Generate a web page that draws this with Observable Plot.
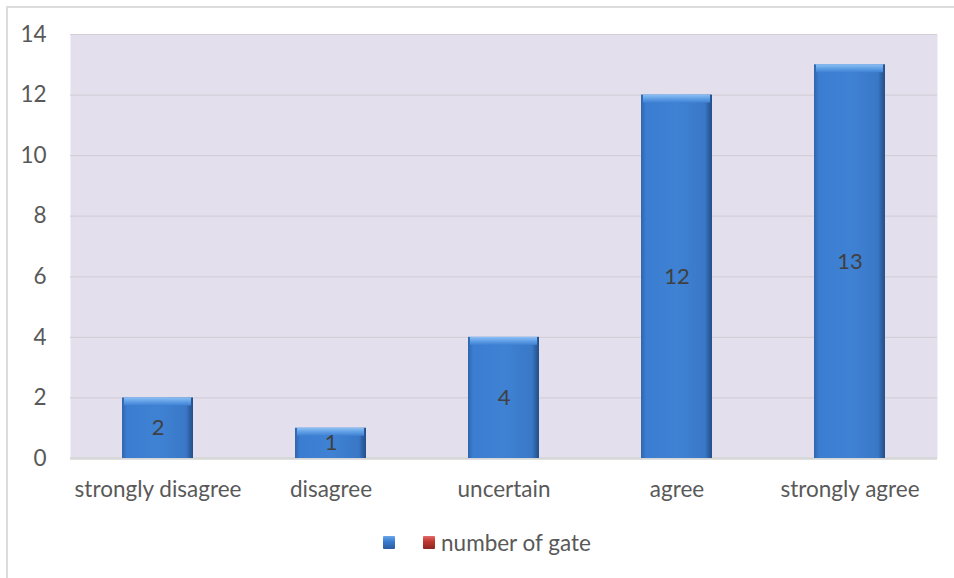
<!DOCTYPE html>
<html>
<head>
<meta charset="utf-8">
<script src="https://cdn.jsdelivr.net/npm/d3@7"></script>
<script src="https://cdn.jsdelivr.net/npm/@observablehq/plot@0.6"></script>
<style>
  body { margin: 0; background: #fff; }
  #wrap { position: relative; width: 954px; height: 578px; overflow: hidden; font-family: Lato, "Open Sans", sans-serif; }
  #border { position: absolute; left: 6px; top: 6px; width: 960px; height: 600px; border-left: 2px solid #dcdcdc; border-top: 2px solid #dcdcdc; box-sizing: border-box; }
  #chart { position: absolute; left: 0; top: 0; }
  #legend { position: absolute; top: 529px; left: 10px; width: 954px; display: flex; justify-content: center; align-items: center; font-size: 22.5px; color: #595959; }
  .sw { display: inline-block; width: 12px; height: 13px; border-radius: 1px; }
</style>
</head>
<body>
<div id="wrap">
  <div id="border"></div>
  <div id="chart"></div>
  <div id="legend">
    <span class="sw" style="background: linear-gradient(#6aa6ea, #3b7dd0 40%, #2a5d9f); margin-right: 28px;"></span>
    <span class="sw" style="background: linear-gradient(#e26a6a, #c0392f 40%, #8e2420); margin-right: 6px;"></span>
    <span>number of gate</span>
  </div>
</div>
<script>
// Responses per answer category
const categories = ["strongly disagree", "disagree", "uncertain", "agree", "strongly agree"];
const counts = [2, 1, 4, 12, 13];
const yTicks = [0, 2, 4, 6, 8, 10, 12, 14];

const data = categories.map((c, i) => ({category: c, value: counts[i]}));

const plot = Plot.plot({
  width: 954,
  height: 520,
  marginLeft: 70,
  marginRight: 17,
  marginTop: 34,
  marginBottom: 62,
  style: {fontFamily: "Lato, 'Open Sans', sans-serif", fontSize: "22.5px", color: "#595959", background: "transparent"},
  x: {domain: categories, label: null, paddingInner: 0.59, paddingOuter: 0.295},
  y: {domain: [0, 14], ticks: yTicks, label: null},
  marks: [
    Plot.frame({fill: "#e4dfec", stroke: null}),
    Plot.ruleY(yTicks.filter(t => t > 0), {stroke: "#d3cfd8", strokeWidth: 1.2}),
    Plot.ruleY([0], {stroke: "#d6d6d6", strokeWidth: 2.5}),
    // bar body with darker shaded sides
    Plot.barY(data, {x: "category", y: "value", fill: "url(#barBody)"}),
    // light bevel along the top edge
    Plot.rect(data, {x: "category", y1: "value", y2: "value", insetBottom: -8, insetLeft: 2, insetRight: 2, fill: "url(#barTop)"}),
    // value labels centred in each bar
    Plot.text(data, {x: "category", y: d => d.value / 2, text: d => String(d.value), fill: "#404040", fontSize: 22}),
    Plot.axisX({tickSize: 0, tickPadding: 23, fontSize: 22.5}),
    Plot.axisY({ticks: yTicks, tickSize: 0, tickPadding: 24, fontSize: 22.5})
  ]
});

// gradients for the bevelled bar look
const defs = d3.select(plot).insert("defs", ":first-child");
const bodyGrad = defs.append("linearGradient").attr("id", "barBody").attr("x1", 0).attr("x2", 1).attr("y1", 0).attr("y2", 0);
[[0, "#2f65ac"], [0.07, "#3b7dd0"], [0.5, "#3f82d4"], [0.9, "#3a78c7"], [0.96, "#2b5d9e"], [1, "#24508a"]]
  .forEach(([o, c]) => bodyGrad.append("stop").attr("offset", o).attr("stop-color", c));
const topGrad = defs.append("linearGradient").attr("id", "barTop").attr("x1", 0).attr("x2", 0).attr("y1", 0).attr("y2", 1);
[[0, "#8ec0f5"], [0.5, "#62a0e6"], [1, "#3f82d4"]]
  .forEach(([o, c]) => topGrad.append("stop").attr("offset", o).attr("stop-color", c));

document.getElementById("chart").append(plot);
</script>
</body>
</html>
